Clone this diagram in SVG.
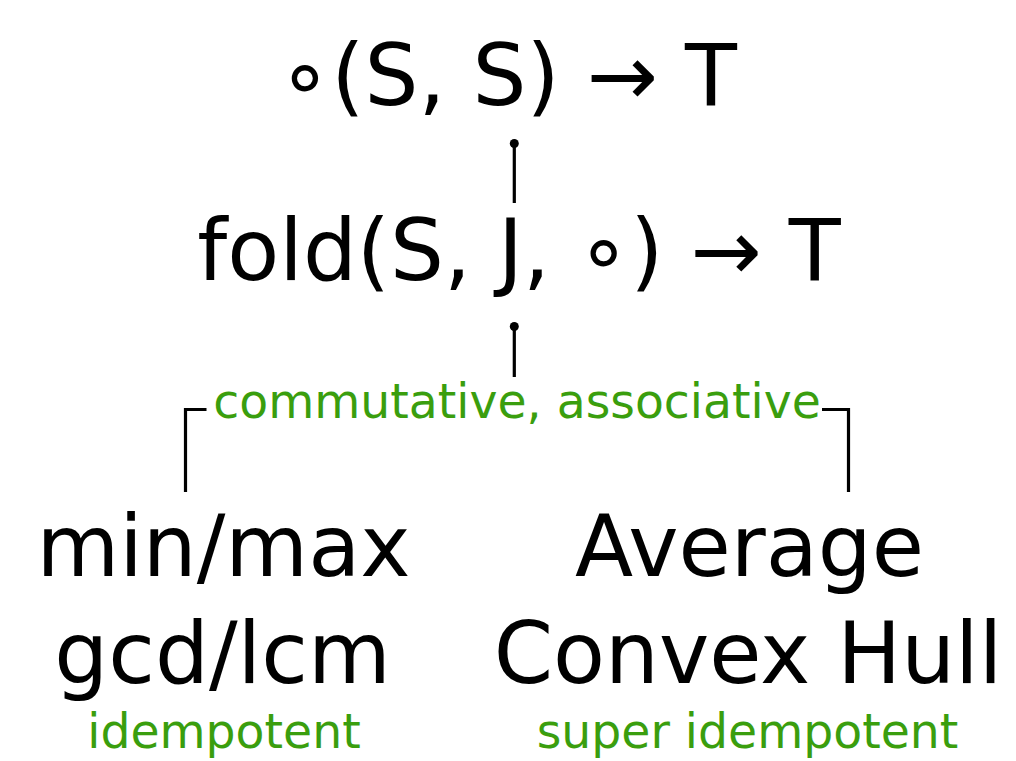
<svg xmlns="http://www.w3.org/2000/svg" width="1016" height="761" viewBox="0 0 1016 761">
<style>
.big{font-family:"DejaVu Sans",sans-serif;font-size:85px;fill:#000;text-anchor:middle}
.note{font-family:"DejaVu Sans",sans-serif;font-size:47.3px;fill:#3a9e0e;text-anchor:middle}
.conn{fill:none;stroke:#000;stroke-width:3.2}
</style>
<rect width="1016" height="761" fill="#fff"/>
<g id="connectors">
<line class="conn" x1="514.3" y1="144" x2="514.3" y2="203"/>
<circle cx="514.3" cy="143.5" r="4.5"/>
<line class="conn" x1="514.3" y1="327" x2="514.3" y2="377"/>
<circle cx="514.3" cy="326.5" r="4.5"/>
<path class="conn" d="M185.5,492 V409.5 H206.5"/>
<path class="conn" d="M822,409.5 H848.5 V492"/>
</g>
<g id="node-compose"><text class="big" x="507.5" y="105">∘(S, S) → T</text></g>
<g id="node-fold"><text class="big" x="519" y="280">fold(S, J, ∘) → T</text></g>
<g id="label-props"><text class="note" x="517" y="418">commutative, associative</text></g>
<g id="node-idem"><text class="big" x="223.5" y="576">min/max</text><text class="big" x="222.5" y="683">gcd/lcm</text><text class="note" x="224" y="748">idempotent</text></g>
<g id="node-super"><text class="big" x="749.5" y="576">Average</text><text class="big" x="748" y="683">Convex Hull</text><text class="note" x="747.5" y="748">super idempotent</text></g>
</svg>
